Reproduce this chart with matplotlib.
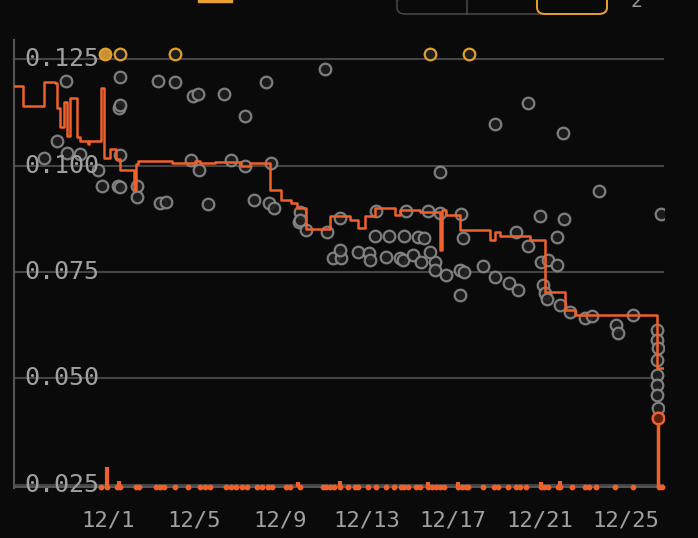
import matplotlib
matplotlib.use("Agg")
import matplotlib.pyplot as plt
from matplotlib.patches import Rectangle, FancyBboxPatch

# step line (day of December, value)
step_days = [-3.35, -2.94, -1.96, -1.45, -1.36, -1.22, -1.04, -0.90, -0.76, -0.44, -0.30, 0.07, 0.12,
             0.68, 0.81, 1.09, 1.37, 1.56, 2.20, 2.30, 2.39, 2.85, 3.96, 5.03, 5.26, 5.95, 7.16, 7.57,
             8.50, 9.01, 9.47, 9.75, 10.17, 11.28, 12.20, 12.57, 12.90, 13.36, 14.29, 14.52, 15.44,
             16.37, 16.46, 16.65, 17.30, 17.44, 18.69, 18.92, 19.15, 20.54, 21.23, 22.16, 22.62, 26.42, 26.74]
step_vals = [0.1186, 0.1139, 0.1196, 0.1194, 0.1135, 0.1090, 0.1149, 0.1069, 0.1158, 0.1067, 0.1057, 0.1050, 0.1057,
             0.1182, 0.1017, 0.1038, 0.1015, 0.0989, 0.0942, 0.1003, 0.1010, 0.1010, 0.1005, 0.1010, 0.1005, 0.1008, 0.0998, 0.1005,
             0.0942, 0.0918, 0.0911, 0.0900, 0.0850, 0.0881, 0.0871, 0.0852, 0.0881, 0.0900, 0.0883, 0.0895, 0.0890,
             0.0801, 0.0895, 0.0883, 0.0848, 0.0848, 0.0824, 0.0843, 0.0835, 0.0824, 0.0702, 0.0660, 0.0648, 0.0523, 0.0523]

gray_days = [-0.94, 1.56, 3.31, 4.10, 8.31, 11.05, 4.94, 5.17, 6.37, 1.51, 1.56, 7.34, 20.44, 18.92, 22.06,
             -1.36, -1.96, -0.90, -0.30, 1.56, 2.34, 0.72, 1.46, 1.56, 2.34, 3.41, 3.69, 5.63, 0.54, 5.21,
             4.84, 6.69, 7.34, 8.55, 7.76, 8.45, 8.69, 9.89, 9.84, 10.17, 9.89, 11.14, 11.74, 13.41, 13.36,
             14.01, 14.70, 15.35, 15.63, 14.80, 15.81, 16.37, 17.34, 17.44, 16.37, 23.73, 26.60, 21.00, 22.11,
             21.79, 19.89, 20.44, 11.42, 11.79, 11.74, 12.57, 13.08, 13.13, 13.87, 14.52, 14.66, 15.12, 15.49,
             16.14, 15.91, 16.65, 16.14, 17.30, 17.48, 17.30, 18.36, 18.92, 19.56, 19.98, 21.05, 21.37, 21.79,
             21.14, 21.23, 21.32, 21.93, 22.39, 23.08, 23.41, 24.52, 24.61, 25.31,
             26.42, 26.42, 26.46, 26.42, 26.42, 26.42, 26.42, 26.46]
gray_vals = [0.1198, 0.1208, 0.1198, 0.1196, 0.1196, 0.1226, 0.1163, 0.1168, 0.1168, 0.1135, 0.1142, 0.1116, 0.1147, 0.1097, 0.1076,
             0.1057, 0.1017, 0.1029, 0.1027, 0.1024, 0.0952, 0.0952, 0.0952, 0.0949, 0.0926, 0.0912, 0.0914, 0.0909, 0.0989, 0.0989,
             0.1013, 0.1013, 0.0999, 0.1006, 0.0919, 0.0912, 0.0900, 0.0890, 0.0867, 0.0848, 0.0872, 0.0843, 0.0876, 0.0893, 0.0834,
             0.0834, 0.0834, 0.0832, 0.0829, 0.0893, 0.0893, 0.0888, 0.0886, 0.0829, 0.0984, 0.0940, 0.0886, 0.0881, 0.0874,
             0.0832, 0.0843, 0.0811, 0.0782, 0.0782, 0.0801, 0.0796, 0.0794, 0.0778, 0.0785, 0.0782, 0.0778, 0.0789, 0.0773,
             0.0773, 0.0796, 0.0742, 0.0754, 0.0754, 0.0749, 0.0695, 0.0764, 0.0738, 0.0724, 0.0707, 0.0773, 0.0778, 0.0766,
             0.0719, 0.0700, 0.0686, 0.0672, 0.0655, 0.0641, 0.0646, 0.0625, 0.0606, 0.0648,
             0.0613, 0.0590, 0.0571, 0.0543, 0.0507, 0.0483, 0.0460, 0.0430]

gold_days = [0.86, 1.56, 4.10, 15.91, 17.71]
gold_vals = [0.1262, 0.1262, 0.1262, 0.1262, 0.1262]

cur_day = 26.46
cur_val = 0.0406

tx_days = [0.68, 0.95, 1.42, 1.56, 2.30, 2.44, 3.22, 3.41, 3.59, 4.10, 4.70, 5.26, 5.49, 5.72, 6.46, 6.69, 6.92,
           7.20, 7.43, 7.90, 8.13, 8.41, 8.59, 9.24, 9.43, 9.89, 10.95, 11.09, 11.28, 11.46, 11.74, 12.11, 12.44,
           12.57, 13.04, 13.41, 13.87, 14.24, 14.56, 14.70, 14.89, 15.26, 15.44, 15.81, 16.00, 16.19, 16.37, 16.56,
           17.20, 17.39, 17.57, 17.67, 18.36, 18.87, 19.06, 19.52, 19.89, 20.07, 20.35, 21.05, 21.19, 21.37, 21.83,
           21.96, 22.52, 23.08, 23.27, 23.59, 24.47, 25.31, 26.51, 26.65]
bar_days = [0.95, 1.50, 9.80, 11.74, 15.81, 17.20, 21.05, 21.96]
bar_vals = [0.0291, 0.0258, 0.0256, 0.0258, 0.0256, 0.0255, 0.0257, 0.0258]

ytick_vals = [0.025, 0.050, 0.075, 0.100, 0.125]
xtick_days = [1, 5, 9, 13, 17, 21, 25]
xtick_labels = ["12/1", "12/5", "12/9", "12/13", "12/17", "12/21", "12/25"]

BG = "#0a0a0a"
OR = "#f0602a"
fig = plt.figure(figsize=(6.98, 5.38), dpi=100, facecolor=BG)
ax = fig.add_axes([14/698, 50/538, 650/698, 448/538], facecolor=BG)
ax.set_xlim(-3.35, 26.76)
ax.set_ylim(0.0242, 0.1295)
for s in ["top", "right", "bottom"]:
    ax.spines[s].set_visible(False)
ax.spines["left"].set_color("#555")
ax.spines["left"].set_linewidth(1.5)
ax.set_yticks([])
ax.set_xticks(xtick_days)
ax.set_xticklabels(xtick_labels, family="DejaVu Sans Mono", fontsize=16, color="#a0a0a0")
ax.tick_params(axis="x", length=0, pad=16)

for v in ytick_vals:
    ax.axhline(v, color="#444", lw=1.5, zorder=1)
ax.axhline(0.0244, color="#555", lw=1.5, zorder=1)

ax.scatter(gray_days, gray_vals, s=70, facecolor="#1e1e1e", edgecolor="#8a8a8a", linewidth=1.6, zorder=3, alpha=0.9)
ax.step(step_days, step_vals, where="post", color=OR, lw=1.8, zorder=4)
ax.scatter(gold_days[:1], gold_vals[:1], s=70, facecolor="#c8902e", edgecolor="#e0a030", linewidth=1.6, zorder=5, clip_on=False)
ax.scatter(gold_days[1:], gold_vals[1:], s=70, facecolor="#1e1e1e", edgecolor="#e0a030", linewidth=1.6, zorder=5, clip_on=False)
ax.vlines([cur_day], 0.0244, cur_val, color=OR, lw=2.5, zorder=5)
ax.scatter([cur_day], [cur_val], s=70, facecolor="#5a2010", edgecolor=OR, linewidth=1.8, zorder=6)
ax.scatter(tx_days, [0.0244] * len(tx_days), s=10, color=OR, zorder=5, clip_on=False)
ax.vlines(bar_days, 0.0244, bar_vals, color=OR, lw=3, zorder=5)

for v in ytick_vals:
    ax.text(0.016, v, f"{v:.3f}", transform=ax.get_yaxis_transform(), ha="left", va="center",
            family="DejaVu Sans Mono", fontsize=18, color="#a0a0a0", zorder=7)

# top UI fragments
fig.patches.append(Rectangle((198/698, 536/538), 34/698, 3/538, transform=fig.transFigure, color="#e8a030"))
fig.patches.append(FancyBboxPatch((397/698, 524/538), 210/698, 20/538, boxstyle="round,pad=0,rounding_size=0.012",
                                  transform=fig.transFigure, fill=False, edgecolor="#444", lw=1.2))
fig.patches.append(FancyBboxPatch((537/698, 524/538), 70/698, 20/538, boxstyle="round,pad=0,rounding_size=0.012",
                                  transform=fig.transFigure, fill=False, edgecolor="#e8a030", lw=1.4))
fig.lines.append(plt.Line2D([467/698, 467/698], [524/538, 538/538], transform=fig.transFigure, color="#444", lw=1.2))
fig.text(630/698, 527/538, "2", color="#9a9a9a", fontsize=14, family="DejaVu Sans Mono", va="bottom")

fig.savefig("out.png", dpi=100, facecolor=BG)
